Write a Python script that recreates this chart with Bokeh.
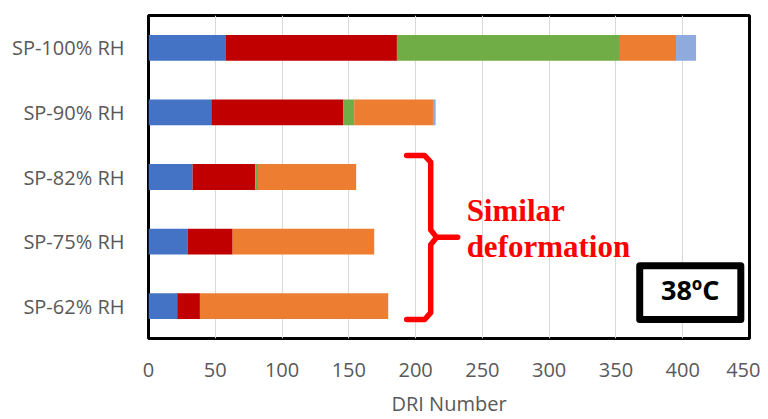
from bokeh.plotting import figure
from bokeh.models import FactorRange, Range1d, ColumnDataSource, SingleIntervalTicker
from bokeh.core.properties import value
from bokeh.embed import file_html
from bokeh.resources import INLINE

# ---- data ----
categories = ["SP-62% RH", "SP-75% RH", "SP-82% RH", "SP-90% RH", "SP-100% RH"]  # bottom -> top
series = ["s1", "s2", "s3", "s4", "s5"]
s1 = [21.5, 29.5, 33, 47, 58]
s2 = [17, 33.5, 47, 99, 128]
s3 = [0, 0, 2, 8, 167]
s4 = [141, 106, 73.5, 59, 42]
s5 = [0, 0, 0, 2, 15]
colors = ["#4472C4", "#C00000", "#70AD47", "#ED7D31", "#8FAADC"]
x_ticks_interval = 50
x_max = 450

# ---- annotation shapes (x in data units; y in synthetic category units 0..5) ----
brace_x = [193.3, 206.8, 211.3, 211.3, 215.7, 231.5, 215.7, 211.3, 211.3, 206.8, 193.3]
brace_y = [2.832, 2.832, 2.731, 1.682, 1.566, 1.566, 1.566, 1.451, 0.401, 0.293, 0.293]
note_x = [238.2, 238.2]
note_y = [1.98, 1.42]
note_text = ["Similar", "deformation"]
box_l, box_r, box_t, box_b = 367.8, 443.5, 1.127, 0.293
temp_y = 0.76
temp_text = "38ºC"

src = ColumnDataSource(dict(cat=categories, s1=s1, s2=s2, s3=s3, s4=s4, s5=s5))

p = figure(width=760, height=419, output_backend="svg", toolbar_location=None,
           y_range=FactorRange(factors=categories), x_range=Range1d(0, x_max),
           min_border_left=148, min_border_right=11, min_border_top=15, min_border_bottom=80)

p.hbar_stack(series, y="cat", height=0.4, fill_color=colors, line_color=None, source=src)

p.line(x=brace_x, y=brace_y, line_color="#FF0000", line_width=5.5,
       line_join="round", line_cap="round")
p.text(x=note_x, y=note_y, text=note_text,
       text_font=value("Liberation Serif"), text_font_style="bold", text_font_size="31px",
       text_color="#FF0000", text_align="left", text_baseline="alphabetic")
p.quad(left=[box_l], right=[box_r], top=[box_t], bottom=[box_b],
       fill_color="white", line_color="black", line_width=7, line_join="round")
p.text(x=[(box_l + box_r) / 2], y=[temp_y], text=[temp_text],
       text_font=value("Open Sans"), text_font_style="bold", text_font_size="27px",
       text_color="black", text_align="center", text_baseline="alphabetic")

p.outline_line_color = "black"
p.outline_line_width = 3
p.xgrid.grid_line_color = "#d9d9d9"
p.xgrid.grid_line_width = 1
p.ygrid.visible = False

p.xaxis.ticker = SingleIntervalTicker(interval=x_ticks_interval)
for ax in (p.xaxis, p.yaxis):
    ax.axis_line_color = None
    ax.major_tick_line_color = None
    ax.minor_tick_line_color = None
    ax.major_tick_out = 0
    ax.major_tick_in = 0
    ax.major_label_text_font = "Open Sans"
    ax.major_label_text_font_size = "20px"
    ax.major_label_text_color = "#595959"
p.xaxis.major_label_standoff = 20
p.yaxis.major_label_standoff = 24
p.xaxis.axis_label = "DRI Number"
p.xaxis.axis_label_text_font = "Open Sans"
p.xaxis.axis_label_text_font_style = "normal"
p.xaxis.axis_label_text_font_size = "20px"
p.xaxis.axis_label_text_color = "#595959"
p.xaxis.axis_label_standoff = 10

open("out.html", "w").write(file_html(p, INLINE))
